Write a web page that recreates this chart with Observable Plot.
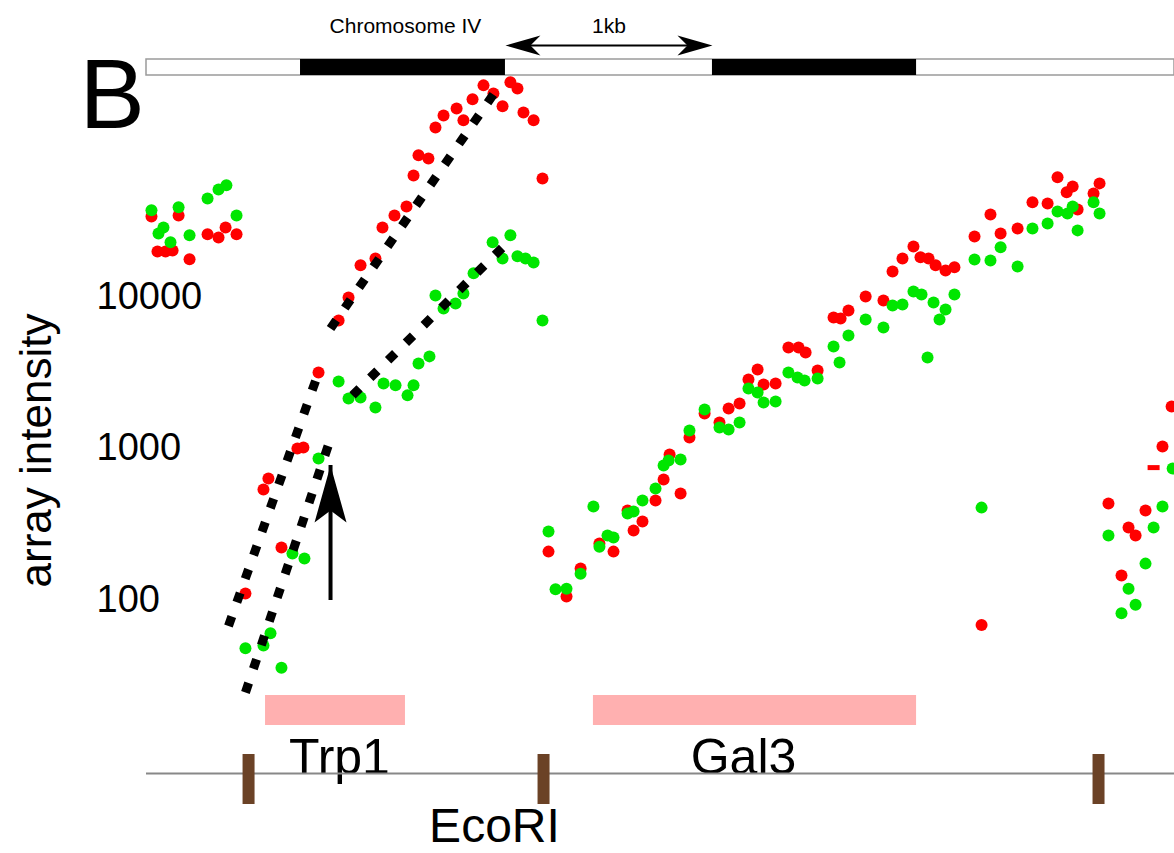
<!DOCTYPE html>
<html>
<head>
<meta charset="utf-8">
<script src="https://cdn.jsdelivr.net/npm/d3@7"></script>
<script src="https://cdn.jsdelivr.net/npm/@observablehq/plot@0.6"></script>
<style>
  html, body { margin: 0; padding: 0; background: #fff; }
  #wrap { position: relative; width: 1174px; height: 853px; overflow: hidden; }
  #wrap svg { position: absolute; left: 0; top: 0; max-width: none !important; }
</style>
</head>
<body>
<div id="wrap"></div>
<script>
// ---------------- DATA ----------------
// positions in bp along the chromosome window, intensities in array units
const chromLength = 4966;
const chromBlack = [[744, 1734], [2734, 3720]];
const scaleBar = [1734, 2734];           // 1 kb
const scaleLabel = "1kb";
const chromLabel = "Chromosome IV";
const chromLabelPos = 1251;

const genes = [
  {name: "Trp1", start: 575, end: 1251, labelAt: 932},
  {name: "Gal3", start: 2159, end: 3720, labelAt: 2884}
];
const ecoRISites = [493, 1918, 4599];
const siteLabel = "EcoRI";
const siteLabelPos = 1681;

const yTicks = [100, 1000, 10000];
const yLabel = "array intensity";
const panelLetter = "B";

const redPts = [
  [24,33200],[155,33700],[53,19500],[92,19500],[126,19800],[208,17300],[295,25300],[348,24100],[382,28100],[435,25300],
  [478,108],[565,524],[589,619],[652,217],[729,977],[758,993],[831,3100],[928,6840],[976,9700],[1034,15800],
  [1106,17500],[1140,28100],[1198,33700],[1256,38600],[1290,61900],[1314,84000],[1362,80000],[1396,128000],
  [1435,154000],[1498,171000],[1531,143000],[1575,197000],[1628,243000],[1676,215000],[1720,177000],
  [1758,255000],[1792,232000],[1821,161000],[1870,143000],[1913,59000],[1942,204],
  [2029,103],[2097,158],[2188,231],[2256,204],[2324,381],[2353,281],[2396,322],[2459,444],[2498,610],
  [2527,891],[2580,493],[2623,1155],[2696,1663],[2768,1449],[2812,1794],[2865,1936],[2908,2787],[2952,3245],
  [2981,2585],[3039,2624],[3101,4536],[3150,4536],[3184,4207],[3242,3200],[3319,7155],[3353,7047],[3391,7955],
  [3474,9840],[3560,9265],[3604,14390],[3652,17540],[3705,21040],[3739,17820],[3778,17540],[3812,15800],
  [3860,14620],[3903,15310],[4000,24500],[4034,67],[4077,34200],[4126,25640],[4208,27670],[4280,41110],
  [4353,40460],[4401,60080],[4445,47860],[4474,52360],[4498,36900],[4575,47100],[4604,54830],
  [4952,1849],[4908,1007],[4647,424],[4826,381],[4744,294],[4778,261],[4710,142]
];
const redDash = [[4865,731]];

const greenPts = [
  [24,36400],[155,38100],[82,28100],[58,25600],[116,22400],[208,24900],[295,43600],[348,50000],[386,53200],[435,33700],
  [478,47],[565,49],[599,59],[652,35],[705,198],[763,184],[831,839],[928,2700],[976,2090],[1034,2120],
  [1106,1820],[1145,2620],[1203,2550],[1261,2190],[1290,2550],[1314,3560],[1367,3960],[1396,10000],
  [1435,8200],[1493,8850],[1531,10300],[1580,14000],[1672,22400],[1720,17500],[1758,24900],[1792,18100],
  [1831,17500],[1870,16500],[1913,6840],[1942,277],
  [1976,115],[2029,116],[2097,146],[2159,405],[2188,220],[2227,261],[2256,253],[2324,364],[2353,375],
  [2396,444],[2459,532],[2498,755],[2522,815],[2580,826],[2623,1285],[2696,1766],[2768,1345],[2812,1304],
  [2865,1449],[2908,2432],[2952,2291],[2981,1968],[3039,1997],[3101,3102],[3145,2875],[3179,2748],
  [3242,2831],[3319,4605],[3348,3611],[3391,5445],[3474,6935],[3560,6150],[3604,8590],[3652,8710],
  [3705,10620],[3744,10140],[3773,3895],[3802,8990],[3831,6935],[3860,8075],[3903,10140],[4000,17260],
  [4034,398],[4077,17020],[4126,20750],[4208,15520],[4280,27670],[4353,29850],[4401,35810],[4449,34750],
  [4474,38640],[4498,26850],[4575,41110],[4604,34750],
  [4957,720],[4908,405],[4647,261],[4865,294],[4826,170],[4744,116],[4778,91],[4710,80]
];

// dashed fitted slopes: [x1, y1, x2, y2]
const fits = [
  [396, 66, 831, 3100],
  [478, 24, 894, 1190],
  [889, 6050, 1676, 212000],
  [995, 2190, 1720, 20700]
];
// annotation arrow: x, from, to
const arrowMark = [[889, 97, 755]];

// ---------------- STYLE / LAYOUT ----------------
const W = 1174, H = 853;
const FONT = "'Liberation Sans', Arial, sans-serif";
const RED = "#ff0000", GREEN = "#00e600", PINK = "#ffb0b0", BROWN = "#6b4226";
const L = {
  labelY: 26, scaleArrowY: 45, chromTop: 59, chromBottom: 75,
  letterY: 96,
  geneTop: 695, geneBottom: 725, geneLabelY: 757,
  lineY: 773, siteTop: 754, siteBottom: 804, siteLabelY: 826,
  yLabelY: 450
};

const dashSymbol = {draw(ctx) { ctx.rect(-6, -2.5, 12, 5); }};
const headUp = {draw(ctx) { ctx.moveTo(0, 0); ctx.lineTo(16, 57); ctx.lineTo(0, 45); ctx.lineTo(-16, 57); ctx.closePath(); }};
const headLeft = {draw(ctx) { ctx.moveTo(0, 0); ctx.lineTo(35, -10); ctx.lineTo(25, 0); ctx.lineTo(35, 10); ctx.closePath(); }};
const headRight = {draw(ctx) { ctx.moveTo(0, 0); ctx.lineTo(-35, -10); ctx.lineTo(-25, 0); ctx.lineTo(-35, 10); ctx.closePath(); }};

const main = Plot.plot({
  width: W, height: H,
  marginLeft: 146, marginRight: 0, marginTop: 71, marginBottom: 149,
  style: {background: "transparent", fontFamily: FONT, overflow: "visible"},
  x: {domain: [0, chromLength], axis: null},
  y: {type: "log", domain: [20, 300000], axis: null},
  marks: [
    Plot.dot(redPts, {x: d => d[0], y: d => d[1], r: 6, fill: RED, stroke: "none"}),
    Plot.dot(redDash, {x: d => d[0], y: d => d[1], symbol: dashSymbol, fill: RED, stroke: "none"}),
    Plot.dot(greenPts, {x: d => d[0], y: d => d[1], r: 6, fill: GREEN, stroke: "none"}),
    Plot.link(fits, {x1: d => d[0], y1: d => d[1], x2: d => d[2], y2: d => d[3],
      stroke: "black", strokeWidth: 9, strokeDasharray: "10,15"}),
    Plot.ruleX(arrowMark, {x: d => d[0], y1: d => d[1], y2: d => d[2], stroke: "black", strokeWidth: 4}),
    Plot.dot(arrowMark, {x: d => d[0], y: d => d[2], symbol: headUp, fill: "black", stroke: "none"}),
    Plot.text(yTicks, {y: d => d, text: d => String(d), frameAnchor: "left", textAnchor: "start",
      dx: -50, dy: 1, fontSize: 38, fill: "black"})
  ]
});

const overlay = Plot.plot({
  width: W, height: H,
  marginLeft: 146, marginRight: 0, marginTop: 0, marginBottom: 0,
  style: {background: "transparent", fontFamily: FONT, overflow: "visible"},
  x: {domain: [0, chromLength], axis: null},
  y: {type: "identity", axis: null},
  marks: [
    // chromosome bar
    Plot.rect([[0, chromLength]], {x1: d => d[0], x2: d => d[1], y1: L.chromTop, y2: L.chromBottom,
      fill: "white", stroke: "#9a9a9a", strokeWidth: 1.5}),
    Plot.rect(chromBlack, {x1: d => d[0], x2: d => d[1], y1: L.chromTop, y2: L.chromBottom, fill: "black"}),
    Plot.text([chromLabel], {x: chromLabelPos, y: L.labelY, fontSize: 21, fill: "black"}),
    // scale arrow
    Plot.ruleY([L.scaleArrowY], {x1: scaleBar[0] + 60, x2: scaleBar[1] - 60, y: d => d, stroke: "black", strokeWidth: 2}),
    Plot.dot([scaleBar[0]], {x: d => d, y: L.scaleArrowY, symbol: headLeft, fill: "black", stroke: "none"}),
    Plot.dot([scaleBar[1]], {x: d => d, y: L.scaleArrowY, symbol: headRight, fill: "black", stroke: "none"}),
    Plot.text([scaleLabel], {x: (scaleBar[0] + scaleBar[1]) / 2, y: L.labelY, fontSize: 21, fill: "black"}),
    // panel letter
    Plot.text([panelLetter], {frameAnchor: "left", y: L.letterY, dx: -67, textAnchor: "start", fontSize: 98, fill: "black"}),
    // y label
    Plot.text([yLabel], {frameAnchor: "left", y: L.yLabelY, dx: -110, rotate: -90, textAnchor: "middle",
      fontSize: 44, fill: "black"}),
    // genes
    Plot.rect(genes, {x1: "start", x2: "end", y1: L.geneTop, y2: L.geneBottom, fill: PINK}),
    Plot.text(genes, {x: "labelAt", y: L.geneLabelY, text: "name", fontSize: 50, fill: "black"}),
    // map line + EcoRI sites
    Plot.ruleY([L.lineY], {y: d => d, stroke: "#888", strokeWidth: 2}),
    Plot.ruleX(ecoRISites, {x: d => d, y1: L.siteTop, y2: L.siteBottom, stroke: BROWN, strokeWidth: 12}),
    Plot.text([siteLabel], {x: siteLabelPos, y: L.siteLabelY, fontSize: 48, fill: "black"})
  ]
});

const wrap = document.getElementById("wrap");
wrap.appendChild(main);
wrap.appendChild(overlay);
</script>
</body>
</html>
